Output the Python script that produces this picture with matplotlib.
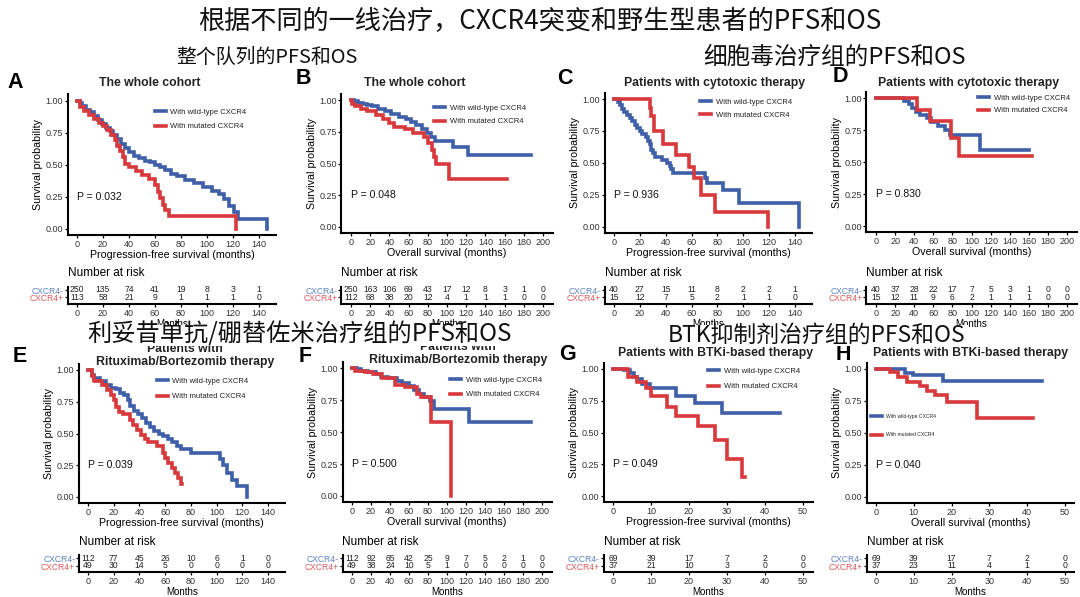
import matplotlib
matplotlib.use('Agg')
import matplotlib.pyplot as plt
from matplotlib.patches import Rectangle

W, H = 1080, 597
EN = ['Liberation Sans', 'DejaVu Sans']
CJK = ['Noto Sans CJK SC', 'DejaVu Sans']
plt.rcParams['font.family'] = EN

BLUE = '#3f5fa9'
RED = '#d8393c'
BLUE_T = '#5f82c4'
RED_T = '#e05a5e'
TICK_C = '#333333'

# ---------------- text ----------------
main_title = '根据不同的一线治疗，CXCR4突变和野生型患者的PFS和OS'
section_titles = ['整个队列的PFS和OS', '细胞毒治疗组的PFS和OS',
                  '利妥昔单抗/硼替佐米治疗组的PFS和OS', 'BTK抑制剂治疗组的PFS和OS']
panel_letters = ['A', 'B', 'C', 'D', 'E', 'F', 'G', 'H']
panel_titles = ['The whole cohort', 'The whole cohort',
                'Patients with cytotoxic therapy', 'Patients with cytotoxic therapy',
                'Patients with\nRituximab/Bortezomib therapy',
                'Patients with\nRituximab/Bortezomib therapy',
                'Patients with BTKi-based therapy', 'Patients with BTKi-based therapy']
PFS = 'Progression-free survival (months)'
OS = 'Overall survival (months)'
x_labels = [PFS, OS, PFS, OS, PFS, OS, PFS, OS]
p_values = ['P = 0.032', 'P = 0.048', 'P = 0.936', 'P = 0.830',
            'P = 0.039', 'P = 0.500', 'P = 0.049', 'P = 0.040']
groups = ['With wild-type CXCR4', 'With mutated CXCR4']
risk_labels = ['CXCR4-', 'CXCR4+']
y_ticks = [0.0, 0.25, 0.5, 0.75, 1.0]
y_ticklabels = ['0.00', '0.25', '0.50', '0.75', '1.00']

# ---------------- survival curves (step points) ----------------
a_wt_t = [0, 2, 4, 7, 10, 13, 16, 19, 22, 25, 28, 31, 34, 37, 40, 44, 48, 52, 56, 60, 64, 68, 72, 77, 83, 90, 97, 104, 109, 113, 117, 121, 124, 146]
a_wt_s = [1.00, 0.98, 0.96, 0.93, 0.91, 0.88, 0.85, 0.82, 0.79, 0.76, 0.73, 0.70, 0.66, 0.63, 0.60, 0.57, 0.55, 0.53, 0.52, 0.50, 0.48, 0.46, 0.43, 0.41, 0.38, 0.36, 0.33, 0.30, 0.27, 0.23, 0.18, 0.13, 0.08, 0.00]
a_mu_t = [0, 2, 5, 9, 13, 17, 20, 23, 26, 29, 31, 33, 35, 37, 40, 45, 50, 55, 60, 62, 64, 66, 68, 71, 122]
a_mu_s = [1.00, 0.95, 0.92, 0.89, 0.86, 0.83, 0.80, 0.77, 0.73, 0.69, 0.65, 0.61, 0.56, 0.51, 0.48, 0.45, 0.42, 0.39, 0.34, 0.29, 0.24, 0.19, 0.15, 0.10, 0.00]

b_wt_t = [0, 3, 7, 12, 17, 22, 28, 35, 42, 50, 57, 62, 68, 74, 79, 83, 88, 106, 122, 187]
b_wt_s = [1.00, 0.99, 0.98, 0.97, 0.96, 0.95, 0.93, 0.91, 0.89, 0.87, 0.85, 0.83, 0.80, 0.77, 0.74, 0.71, 0.68, 0.63, 0.57, 0.57]
b_mu_t = [0, 1, 4, 10, 17, 26, 33, 40, 45, 56, 65, 76, 80, 84, 86, 89, 102, 163]
b_mu_s = [1.00, 0.97, 0.95, 0.93, 0.91, 0.88, 0.85, 0.82, 0.79, 0.77, 0.74, 0.71, 0.66, 0.61, 0.55, 0.50, 0.38, 0.38]

c_wt_t = [0, 3, 5, 6, 8, 10, 12, 14, 16, 18, 20, 22, 25, 26, 28, 29, 30, 32, 37, 41, 43, 44, 46, 70, 72, 84, 97, 143]
c_wt_s = [1.00, 0.975, 0.95, 0.925, 0.90, 0.875, 0.85, 0.825, 0.80, 0.775, 0.75, 0.725, 0.70, 0.675, 0.65, 0.60, 0.575, 0.55, 0.525, 0.50, 0.475, 0.45, 0.42, 0.38, 0.34, 0.29, 0.19, 0.00]
c_mu_t = [0, 28, 29, 31, 38, 48, 58, 62, 67, 78, 119]
c_mu_s = [1.00, 0.93, 0.87, 0.75, 0.65, 0.56, 0.47, 0.38, 0.25, 0.12, 0.00]

d_wt_t = [0, 29, 35, 38, 42, 46, 53, 58, 65, 72, 77, 109, 160]
d_wt_s = [1.00, 0.975, 0.95, 0.92, 0.89, 0.87, 0.84, 0.81, 0.78, 0.75, 0.71, 0.59, 0.59]
d_mu_t = [0, 43, 57, 79, 87, 163]
d_mu_s = [1.00, 0.91, 0.82, 0.69, 0.55, 0.55]

e_wt_t = [0, 3, 5, 9, 14, 18, 22, 25, 28, 31, 33, 36, 39, 42, 45, 48, 51, 55, 58, 62, 65, 69, 72, 80, 103, 105, 108, 112, 116, 124]
e_wt_s = [1.00, 0.96, 0.94, 0.91, 0.88, 0.86, 0.85, 0.82, 0.80, 0.76, 0.72, 0.68, 0.65, 0.62, 0.58, 0.55, 0.52, 0.50, 0.48, 0.46, 0.43, 0.40, 0.38, 0.35, 0.30, 0.25, 0.19, 0.13, 0.09, 0.00]
e_mu_t = [0, 3, 5, 11, 15, 18, 20, 22, 24, 27, 33, 35, 38, 41, 44, 47, 54, 58, 60, 62, 65, 68, 70, 72, 73]
e_mu_s = [1.00, 0.95, 0.91, 0.88, 0.84, 0.80, 0.76, 0.71, 0.67, 0.65, 0.61, 0.57, 0.53, 0.49, 0.46, 0.43, 0.40, 0.35, 0.31, 0.27, 0.23, 0.19, 0.15, 0.10, 0.10]

f_wt_t = [0, 5, 9, 17, 25, 30, 38, 47, 53, 60, 65, 70, 76, 82, 86, 123, 188]
f_wt_s = [1.00, 0.99, 0.98, 0.97, 0.95, 0.93, 0.92, 0.90, 0.88, 0.86, 0.83, 0.80, 0.77, 0.74, 0.68, 0.58, 0.58]
f_mu_t = [0, 3, 14, 22, 32, 45, 56, 68, 73, 83, 104]
f_mu_s = [1.00, 0.98, 0.97, 0.95, 0.92, 0.87, 0.85, 0.80, 0.77, 0.58, 0.00]

g_wt_t = [0, 3, 4.4, 5.5, 6.2, 7.5, 9.7, 16.7, 21.6, 28.6, 44]
g_wt_s = [1.00, 0.99, 0.97, 0.94, 0.92, 0.88, 0.85, 0.79, 0.73, 0.65, 0.65]
g_mu_t = [0, 4, 6.2, 8.8, 10.1, 14.1, 16.7, 22.4, 26.8, 29.9, 33.9, 34.8]
g_mu_s = [1.00, 0.94, 0.90, 0.85, 0.79, 0.70, 0.63, 0.55, 0.44, 0.29, 0.15, 0.15]

h_wt_t = [0, 7.7, 9.9, 17.8, 44]
h_wt_s = [1.00, 0.97, 0.95, 0.91, 0.91]
h_mu_t = [0, 3.7, 5.9, 8.1, 11.6, 13.4, 15.6, 18.7, 26.6, 41.6]
h_mu_s = [1.00, 0.98, 0.94, 0.90, 0.87, 0.83, 0.80, 0.74, 0.62, 0.62]

# ---------------- number at risk ----------------
risk_t140 = [0, 20, 40, 60, 80, 100, 120, 140]
risk_t200 = [0, 20, 40, 60, 80, 100, 120, 140, 160, 180, 200]
risk_t50 = [0, 10, 20, 30, 40, 50]

a_risk_wt = [250, 135, 74, 41, 19, 8, 3, 1]
a_risk_mu = [113, 58, 21, 9, 1, 1, 1, 0]
b_risk_wt = [250, 163, 106, 69, 43, 17, 12, 8, 3, 1, 0]
b_risk_mu = [112, 68, 38, 20, 12, 4, 1, 1, 1, 0, 0]
c_risk_wt = [40, 27, 15, 11, 8, 2, 2, 1]
c_risk_mu = [15, 12, 7, 5, 2, 1, 1, 0]
d_risk_wt = [40, 37, 28, 22, 17, 7, 5, 3, 1, 0, 0]
d_risk_mu = [15, 12, 11, 9, 6, 2, 1, 1, 1, 0, 0]
e_risk_wt = [112, 77, 45, 26, 10, 6, 1, 0]
e_risk_mu = [49, 30, 14, 5, 0, 0, 0, 0]
f_risk_wt = [112, 92, 65, 42, 25, 9, 7, 5, 2, 1, 0]
f_risk_mu = [49, 38, 24, 10, 5, 1, 0, 0, 0, 0, 0]
g_risk_wt = [69, 39, 17, 7, 2, 0]
g_risk_mu = [37, 21, 10, 3, 0, 0]
h_risk_wt = [69, 39, 17, 7, 2, 0]
h_risk_mu = [37, 23, 11, 4, 1, 0]

curves = [((a_wt_t, a_wt_s), (a_mu_t, a_mu_s)), ((b_wt_t, b_wt_s), (b_mu_t, b_mu_s)),
          ((c_wt_t, c_wt_s), (c_mu_t, c_mu_s)), ((d_wt_t, d_wt_s), (d_mu_t, d_mu_s)),
          ((e_wt_t, e_wt_s), (e_mu_t, e_mu_s)), ((f_wt_t, f_wt_s), (f_mu_t, f_mu_s)),
          ((g_wt_t, g_wt_s), (g_mu_t, g_mu_s)), ((h_wt_t, h_wt_s), (h_mu_t, h_mu_s))]
risks = [(risk_t140, a_risk_wt, a_risk_mu), (risk_t200, b_risk_wt, b_risk_mu),
         (risk_t140, c_risk_wt, c_risk_mu), (risk_t200, d_risk_wt, d_risk_mu),
         (risk_t140, e_risk_wt, e_risk_mu), (risk_t200, f_risk_wt, f_risk_mu),
         (risk_t50, g_risk_wt, g_risk_mu), (risk_t50, h_risk_wt, h_risk_mu)]

# ---------------- layout (pixels) ----------------
# x0: px of 0, xT: px of last tick, T: last tick, xlim, y1: px of 1.0, y0: px of 0.0
layouts = [
    (77, 259, 140, (-7.3, 153.3), 100.7, 229),
    (351, 543, 200, (-10, 210), 100, 227),
    (614, 795, 140, (-7.3, 153.3), 99, 227),
    (876, 1067, 200, (-10, 210), 98, 226),
    (88, 268, 140, (-7.3, 153.3), 370, 497),
    (352, 542, 200, (-10, 210), 368, 496),
    (613, 803, 50, (-2.5, 52.5), 369, 496),
    (876, 1065, 50, (-2.5, 52.5), 369, 497),
]
# table: top, row1, row2, axis line, 'Number at risk' y
table_top = (287, 290, 297.3, 304, 273)
table_bot = (555, 558.3, 566, 572, 542)
legend_pos = [(155, 113, 16, 5.5), (434, 109, 15, 5.5), (700, 103, 14.5, 5.5), (978, 99, 14, 5.5),
              (157, 382, 17, 5.5), (450, 381, 16, 5.5), (708, 372, 17, 5.5), (871, 417, 19, 3.6)]
title_pos = [(150, 83), (415, 83), (715, 83), (969, 83), (185, 355.5), (458, 353.5), (716, 353), (971, 353)]
letter_pos = [(15, 82), (303, 78), (565, 78), (840, 77), (20, 357), (305, 357), (568, 355), (843, 355)]

fig = plt.figure(figsize=(W / 100, H / 100), dpi=100)


def rect(left, top, right, bottom):
    return [left / W, 1 - bottom / H, (right - left) / W, (bottom - top) / H]


def style_axis(ax, lw=1.5):
    for s in ['top', 'right']:
        ax.spines[s].set_visible(False)
    for s in ['left', 'bottom']:
        ax.spines[s].set_linewidth(lw)
        ax.spines[s].set_color('black')
    ax.tick_params(direction='out', length=2.3, width=0.9, color='black',
                   labelsize=6.5, labelcolor=TICK_C, pad=1)


for i in range(8):
    x0, xT, T, xlim, y1, y0 = layouts[i]
    ppm = (xT - x0) / T
    left = x0 + xlim[0] * ppm
    right = x0 + xlim[1] * ppm
    ppu = y0 - y1
    top = y1 - 0.05 * ppu
    bottom = y0 + 0.05 * ppu
    ax = fig.add_axes(rect(left, top, right, bottom))
    (wt_t, wt_s), (mu_t, mu_s) = curves[i]
    l1, = ax.step(wt_t, wt_s, where='post', color=BLUE, lw=2.6, solid_joinstyle='miter')
    l2, = ax.step(mu_t, mu_s, where='post', color=RED, lw=2.6, solid_joinstyle='miter')
    ax.set_xlim(xlim)
    ax.set_ylim(-0.05, 1.05)
    rt = risks[i][0]
    ax.set_xticks(rt)
    ax.set_yticks(y_ticks)
    ax.set_yticklabels(y_ticklabels)
    style_axis(ax)
    ax.set_xlabel(x_labels[i], fontsize=7.7, labelpad=0.5)
    ax.set_ylabel('Survival probability', fontsize=7.7, labelpad=1.5)
    ax.text(0, 0.25, p_values[i], ha='left', va='center', fontsize=7.6, color='#111111')

    lx, ly, pitch, lfs = legend_pos[i]
    fs_px = lfs * 100 / 72
    row_h = fs_px * 1.16
    ax.legend([l1, l2], groups, loc='upper left',
              bbox_to_anchor=(lx / W, 1 - (ly - row_h / 2) / H), bbox_transform=fig.transFigure,
              frameon=False, fontsize=lfs, handlelength=11 / fs_px, handletextpad=4.5 / fs_px,
              labelspacing=(pitch - row_h) / fs_px, borderpad=0, borderaxespad=0,
              labelcolor='#222222')

    # risk table
    ttop, r1, r2, tax, nar_y = table_top if i < 4 else table_bot
    tab = fig.add_axes(rect(left, ttop, right, tax))
    p = r2 - r1
    tab.set_xlim(xlim)
    tab.set_ylim(-(tax - r2) / p, 1 + (r1 - ttop) / p)
    rt, rw, rm = risks[i]
    for x, n in zip(rt, rw):
        tab.text(x, 1, str(n), ha='center', va='center', fontsize=6.2, color='#222222')
    for x, n in zip(rt, rm):
        tab.text(x, 0, str(n), ha='center', va='center', fontsize=6.2, color='#222222')
    tab.set_xticks(rt)
    tab.set_yticks([1, 0])
    tab.set_yticklabels(risk_labels)
    style_axis(tab)
    tab.tick_params(axis='y', labelsize=6.2, length=2, pad=0.5)
    tl = tab.get_yticklabels()
    tl[0].set_color(BLUE_T)
    tl[1].set_color(RED_T)
    tab.set_xlabel('Months', fontsize=7, labelpad=1)
    fig.text(left / W, 1 - nar_y / H, 'Number at risk', ha='left', va='center', fontsize=8.5)

    # panel title and letter
    tx, ty = title_pos[i]
    fig.text(tx / W, 1 - ty / H, panel_titles[i], ha='center', va='center', fontsize=8.8,
             fontweight='bold', color='#222222', linespacing=1.15)
    lx2, ly2 = letter_pos[i]
    fig.text(lx2 / W, 1 - ly2 / H, panel_letters[i], ha='center', va='center', fontsize=15.5,
             fontweight='bold')

# Chinese titles, width-calibrated
renderer = fig.canvas.get_renderer()
cjk_items = [
    (main_title, 540, 22, 684, 19, False),
    (section_titles[0], 267, 57, 182, 15, False),
    (section_titles[1], 834, 57, 263, 16, False),
    (section_titles[2], 300, 335, 424, 17, True),
    (section_titles[3], 817, 335, 298, 17, True),
]
for txt, cx, cy, wpx, fs, boxed in cjk_items:
    t = fig.text(cx / W, 1 - cy / H, txt, ha='center', va='center', family=CJK,
                 fontsize=fs, zorder=10, color='#111111')
    bb = t.get_window_extent(renderer)
    t.set_fontsize(fs * wpx / bb.width)
    if boxed:
        # white backing limited to the glyph height (covers what lies behind)
        bh = 21
        fig.patches.append(Rectangle(((cx - wpx / 2 - 2) / W, 1 - (cy + bh / 2) / H),
                                     (wpx + 4) / W, bh / H, transform=fig.transFigure,
                                     facecolor='white', edgecolor='none', zorder=9))

fig.savefig('out.png', dpi=100, facecolor='white')
